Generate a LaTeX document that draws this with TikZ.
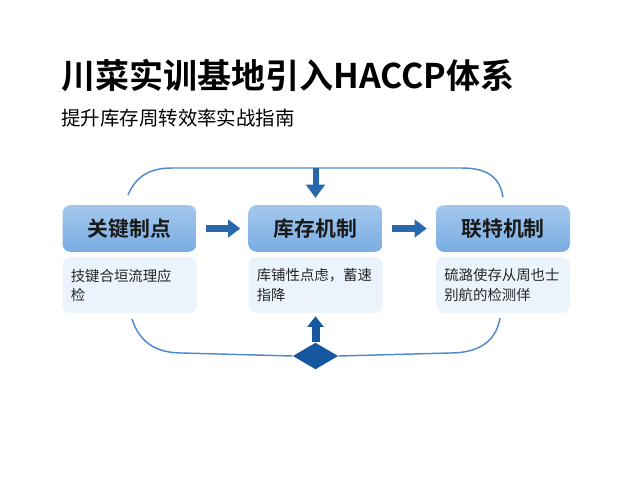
\documentclass[tikz,border=0pt]{standalone}
\usepackage{fontspec}
\setmainfont{Noto Sans CJK SC}[BoldFont={Noto Sans CJK SC Bold}]
\usetikzlibrary{positioning,arrows.meta,calc,shapes.geometric}

\definecolor{headtop}{RGB}{164,200,238}
\definecolor{headbot}{RGB}{122,173,226}
\definecolor{detailfill}{RGB}{235,244,252}
\definecolor{arrowblue}{RGB}{40,104,172}
\definecolor{loopblue}{RGB}{80,138,204}
\definecolor{diamondblue}{RGB}{22,88,160}

\begin{document}
\begin{tikzpicture}[
    x=0.75pt, y=-0.75pt,
    title/.style={
        anchor=west,
        inner sep=0pt,
        font=\bfseries\fontsize{25.5pt}{30pt}\selectfont
    },
    subtitle/.style={
        anchor=west,
        inner sep=0pt,
        font=\fontsize{14.6pt}{18pt}\selectfont
    },
    headbox/.style={
        rectangle,
        rounded corners=6pt,
        minimum width=100.5pt,
        minimum height=35pt,
        top color=headtop,
        bottom color=headbot,
        text=black!90,
        font=\bfseries\fontsize{15.6pt}{18pt}\selectfont
    },
    detailbox/.style={
        rectangle,
        rounded corners=6pt,
        minimum width=100.5pt,
        minimum height=42pt,
        fill=detailfill,
        text width=88pt,
        inner xsep=6pt,
        align=left,
        text=black!85,
        font=\fontsize{10.8pt}{14.3pt}\selectfont
    },
    arrow/.style={-{Triangle[length=9pt, width=13pt]}, line width=5pt, arrowblue},
    varrow/.style={-{Triangle[length=10pt, width=14pt]}, line width=4.5pt, arrowblue},
    loopline/.style={line width=1.1pt, loopblue},
    hub/.style={
        diamond,
        aspect=1.75,
        inner sep=0pt,
        minimum width=34pt,
        minimum height=20pt,
        fill=diamondblue
    }
]

\useasboundingbox (0,0) rectangle (640,480);

% --- Titulo ---
\node[title]    (tt) at (61,76)    {川菜实训基地引入HACCP体系};
\node[subtitle] (st) at (61,118.5) {提升库存周转效率实战指南};

% --- Cabeceras ---
\node[headbox] (h1) at (129.5,228.5) {关键制点};
\node[headbox] (h2) at (315.5,228.5) {库存机制};
\node[headbox] (h3) at (503,228.5)   {联特机制};

% --- Detalles ---
\node[detailbox] (d1) at (129.5,285) {技键合垣流理应\\检};
\node[detailbox] (d2) at (315.5,285) {库铺性点虑，蓄速\\指降};
\node[detailbox] (d3) at (503,285)   {硫潞使存从周也士\\别航的检测佯};

% --- Flechas entre cabeceras ---
\draw[arrow] ($(h1.east)+(9,0)$) -- ($(h2.west)+(-8,0)$);
\draw[arrow] ($(h2.east)+(9,0)$) -- ($(h3.west)+(-9,0)$);

% --- Lazo superior ---
\coordinate (topL) at (128,195);
\coordinate (topR) at (503,197);
\coordinate (topM) at (315.5,168);
\draw[loopline] (topL) .. controls (136,176) and (150,168) .. (172,168)
    -- (462,168) .. controls (488,168) and (500,178) .. (topR);
\draw[varrow] (topM) -- ($(h2.north)+(0,-7)$);

% --- Lazo inferior ---
\node[hub] (hub) at (315.5,356) {};
\coordinate (botL) at (132,319);
\coordinate (botR) at (500,318);
\draw[loopline] (botL) .. controls (140,344) and (158,353) .. (182,353)
    -- (hub.west);
\draw[loopline] (hub.east) -- (450,353)
    .. controls (478,353) and (496,342) .. (botR);
\draw[-{Triangle[length=8pt, width=12pt]}, line width=6pt, diamondblue]
    (hub.north) -- ($(d2.south)+(0,3)$);

\end{tikzpicture}
\end{document}
